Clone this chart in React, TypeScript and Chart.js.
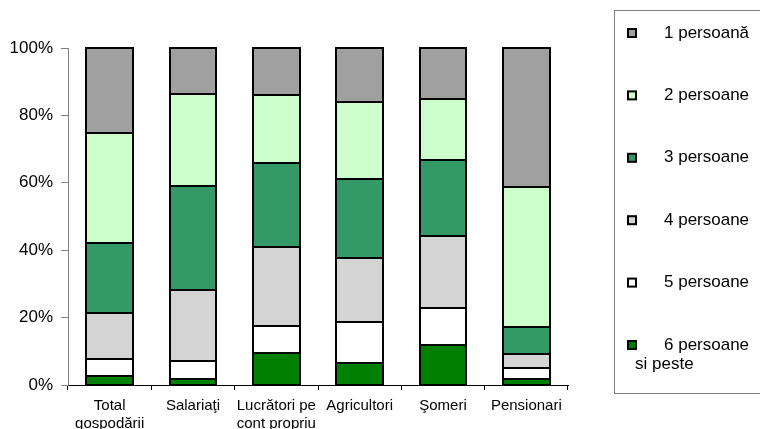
import React, { useEffect, useRef } from "react";
import { Chart, registerables } from "chart.js";

Chart.register(...registerables);

const categories: (string | string[])[] = [
  ["Total", "gospodării"],
  "Salariaţi",
  ["Lucrători pe", "cont propriu"],
  "Agricultori",
  "Şomeri",
  "Pensionari",
];

const seriesLabels = ["1 persoană", "2 persoane", "3 persoane", "4 persoane", "5 persoane", "6 persoane si peste"];
const seriesColors = ["#A0A0A0", "#CCFFCC", "#339966", "#D4D4D4", "#FFFFFF", "#008000"];

const pers1 = [25.3, 13.6, 13.9, 15.9, 15.1, 41.2];
const pers2 = [32.5, 27.3, 20.1, 23.1, 18.1, 41.7];
const pers3 = [20.7, 30.9, 25.0, 23.4, 22.6, 8.0];
const pers4 = [13.9, 21.1, 23.5, 18.9, 21.3, 4.2];
const pers5 = [4.9, 5.2, 7.9, 12.1, 11.0, 3.1];
const pers6 = [2.7, 1.9, 9.6, 6.6, 11.9, 1.8];

const seriesValues = [pers1, pers2, pers3, pers4, pers5, pers6];
const yTicks = [0, 20, 40, 60, 80, 100];

const FONT = "Arial, 'Liberation Sans', sans-serif";

const barOutlinePlugin = {
  id: "barOutline",
  afterDatasetsDraw(chart: any) {
    const ctx = chart.ctx;
    ctx.save();
    ctx.strokeStyle = "#000";
    ctx.lineWidth = 2;
    chart.data.datasets.forEach((_: any, di: number) => {
      const meta = chart.getDatasetMeta(di);
      meta.data.forEach((el: any) => {
        const p = el.getProps(["x", "y", "base", "width"], true);
        const left = Math.round(p.x - p.width / 2);
        const right = Math.round(p.x + p.width / 2);
        const top = Math.round(Math.min(p.y, p.base));
        const bottom = Math.round(Math.max(p.y, p.base));
        ctx.strokeRect(left, top, right - left, bottom - top);
      });
    });
    ctx.restore();
  },
};

const legendPlugin = {
  id: "customLegend",
  afterDraw(chart: any) {
    const ctx = chart.ctx;
    ctx.save();
    ctx.strokeStyle = "#808080";
    ctx.lineWidth = 1;
    ctx.strokeRect(614.5, 10.5, 160, 383);
    ctx.font = `17px ${FONT}`;
    ctx.textBaseline = "middle";
    seriesLabels.forEach((lab, i) => {
      const cy = 33 + i * 62.4;
      ctx.fillStyle = seriesColors[i];
      ctx.fillRect(628, cy - 4, 8, 8);
      ctx.strokeStyle = "#000";
      ctx.lineWidth = 2;
      ctx.strokeRect(628, cy - 4, 8, 8);
      ctx.fillStyle = "#000";
      if (i === 5) {
        ctx.fillText("6 persoane", 664, cy);
        ctx.fillText("si peste", 635, cy + 19);
      } else {
        ctx.fillText(lab, 664, cy);
      }
    });
    ctx.restore();
  },
};

export default function App() {
  const ref = useRef<HTMLCanvasElement>(null);
  useEffect(() => {
    if (!ref.current) return;
    const datasets = seriesLabels
      .map((lab, i) => ({
        label: lab,
        data: seriesValues[i],
        backgroundColor: seriesColors[i],
        borderWidth: 0,
        categoryPercentage: 1,
        barPercentage: 0.56,
      }))
      .reverse();
    const chart = new Chart(ref.current, {
      type: "bar",
      data: { labels: categories, datasets },
      options: {
        animation: false,
        responsive: false,
        maintainAspectRatio: false,
        layout: { padding: { top: 48, right: 192, left: 0, bottom: 0 } },
        plugins: { legend: { display: false }, tooltip: { enabled: false } },
        scales: {
          x: {
            stacked: true,
            grid: { display: true, drawOnChartArea: false, color: "#000", tickLength: 5, offset: true },
            border: { display: true, color: "#000", width: 1 },
            ticks: { color: "#000", font: { family: FONT, size: 15 }, padding: 7, maxRotation: 0, autoSkip: false },
            afterFit: (s: any) => { s.height = 44; },
          },
          y: {
            stacked: true,
            min: 0,
            max: 100,
            afterBuildTicks: (s: any) => { s.ticks = yTicks.map((v) => ({ value: v })); },
            grid: { display: true, drawOnChartArea: false, color: "#808080", tickLength: 7 },
            border: { display: true, color: "#808080", width: 1 },
            ticks: {
              color: "#000",
              font: { family: FONT, size: 17 },
              padding: 8,
              callback: (v: any) => `${v}%`,
            },
            afterFit: (s: any) => { s.width = 68; },
          },
        },
      },
      plugins: [barOutlinePlugin, legendPlugin],
    });
    return () => chart.destroy();
  }, []);
  return (
    <div style={{ position: "fixed", left: 0, top: 0, width: 760, height: 429, background: "#fff" }}>
      <canvas ref={ref} width={760} height={429} style={{ width: 760, height: 429 }} />
    </div>
  );
}
